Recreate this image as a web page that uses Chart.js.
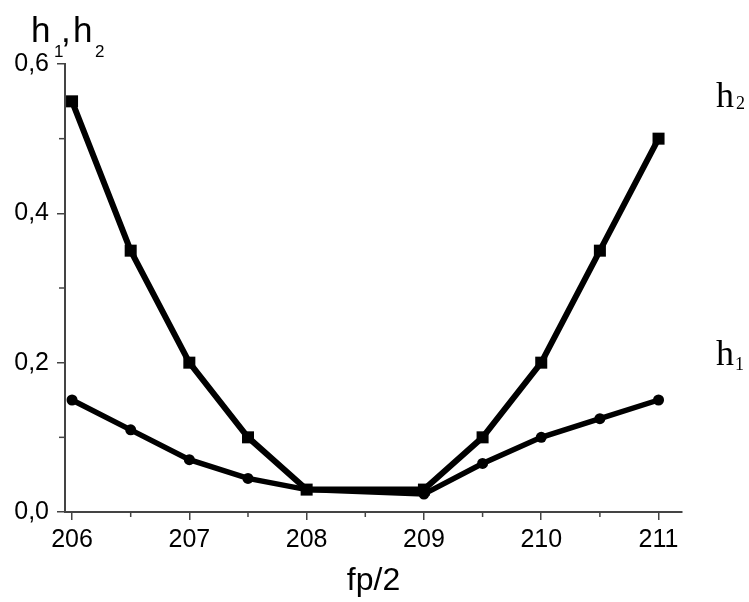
<!DOCTYPE html>
<html><head><meta charset="utf-8">
<script src="https://cdn.jsdelivr.net/npm/chart.js@4"></script>
<style>html,body{margin:0;padding:0;background:#fff}#wrap{width:749px;height:602px;position:relative}</style>
</head><body><div id="wrap"><canvas id="c"></canvas></div>
<script>
// ---- data ----
const xValues  = [206, 206.5, 207, 207.5, 208, 209, 209.5, 210, 210.5, 211];
const h2Values = [0.55, 0.35, 0.20, 0.10, 0.03, 0.03, 0.10, 0.20, 0.35, 0.50];
const h1Values = [0.15, 0.11, 0.07, 0.045, 0.03, 0.024, 0.065, 0.10, 0.125, 0.15];
const xTickLabels = ['206', '207', '208', '209', '210', '211'];
const yTickLabels = ['0,0', '0,2', '0,4', '0,6'];
const xAxisTitle = 'fp/2';

const AXIS = '#444';

const toPoints = ys => xValues.map((x, i) => ({x, y: ys[i]}));

const minorTicks = {
  id: 'minorTicks',
  afterDatasetsDraw(chart) {
    const {ctx, scales: {x, y}} = chart;
    ctx.save();
    ctx.strokeStyle = AXIS;
    ctx.lineWidth = 1.5;
    const xt = x.ticks.map(t => t.value);
    for (let i = 0; i < xt.length - 1; i++) {
      const px = x.getPixelForValue((xt[i] + xt[i + 1]) / 2);
      ctx.beginPath(); ctx.moveTo(px, y.bottom); ctx.lineTo(px, y.bottom + 5); ctx.stroke();
    }
    const yt = y.ticks.map(t => t.value);
    for (let i = 0; i < yt.length - 1; i++) {
      const py = y.getPixelForValue((yt[i] + yt[i + 1]) / 2);
      ctx.beginPath(); ctx.moveTo(x.left, py); ctx.lineTo(x.left - 6, py); ctx.stroke();
    }
    ctx.restore();
  }
};

const labels = {
  id: 'labels',
  afterDraw(chart) {
    const ctx = chart.ctx;
    ctx.save();
    ctx.fillStyle = '#000';
    ctx.textBaseline = 'alphabetic';
    ctx.textAlign = 'left';
    // y axis title h1,h2
    const big = '35px "Liberation Sans", Arial, sans-serif';
    const sub = '17px "Liberation Sans", Arial, sans-serif';
    ctx.font = big; ctx.fillText('h', 31, 42);
    ctx.font = sub; ctx.fillText('1', 54, 57);
    ctx.font = big; ctx.fillText(',', 61, 42);
    ctx.font = big; ctx.fillText('h', 73, 42);
    ctx.font = sub; ctx.fillText('2', 95, 57);
    // series labels
    const sbig = '36px "Liberation Serif", "Times New Roman", serif';
    const ssub = '18px "Liberation Serif", "Times New Roman", serif';
    ctx.font = sbig; ctx.fillText('h', 716, 107);
    ctx.font = ssub; ctx.fillText('2', 736, 109);
    ctx.font = sbig; ctx.fillText('h', 716, 365);
    ctx.font = ssub; ctx.fillText('1', 735, 370);
    ctx.restore();
  }
};

new Chart(document.getElementById('c'), {
  type: 'line',
  data: {
    datasets: [
      {
        label: 'h2', data: toPoints(h2Values),
        borderColor: '#000', backgroundColor: '#000', borderWidth: 6,
        pointStyle: 'rect', pointRadius: 8.5, pointBorderWidth: 0, tension: 0
      },
      {
        label: 'h1', data: toPoints(h1Values),
        borderColor: '#000', backgroundColor: '#000', borderWidth: 5.5,
        pointStyle: 'circle', pointRadius: 5.5, pointBorderWidth: 0, tension: 0
      }
    ]
  },
  options: {
    responsive: true, maintainAspectRatio: false, animation: false,
    devicePixelRatio: 1,
    layout: {padding: {top: 64, right: 67, bottom: 0, left: 0}},
    plugins: {legend: {display: false}, tooltip: {enabled: false}},
    scales: {
      x: {
        type: 'linear', min: 205.94, max: 211.2,
        afterFit: s => { s.height = 90; },
        border: {color: AXIS, width: 2},
        grid: {drawOnChartArea: false, drawTicks: true, tickLength: 8, color: AXIS, lineWidth: 1.5},
        ticks: {
          stepSize: 1, includeBounds: false, autoSkip: false, maxRotation: 0,
          color: '#000', padding: 5,
          font: {family: '"Liberation Sans", Arial, sans-serif', size: 25},
          callback: v => xTickLabels[Math.round(v - 206)]
        },
        title: {
          display: true, text: xAxisTitle, color: '#000',
          font: {family: '"Liberation Sans", Arial, sans-serif', size: 32},
          padding: {top: 0, bottom: 2}
        }
      },
      y: {
        type: 'linear', min: 0, max: 0.6,
        afterFit: s => { s.width = 65; },
        border: {color: AXIS, width: 2},
        grid: {drawOnChartArea: false, drawTicks: true, tickLength: 8, color: AXIS, lineWidth: 1.5},
        ticks: {
          stepSize: 0.2, includeBounds: false, color: '#000', padding: 8,
          font: {family: '"Liberation Sans", Arial, sans-serif', size: 25},
          callback: v => yTickLabels[Math.round(v / 0.2)]
        }
      }
    }
  },
  plugins: [minorTicks, labels]
});
</script></body></html>
